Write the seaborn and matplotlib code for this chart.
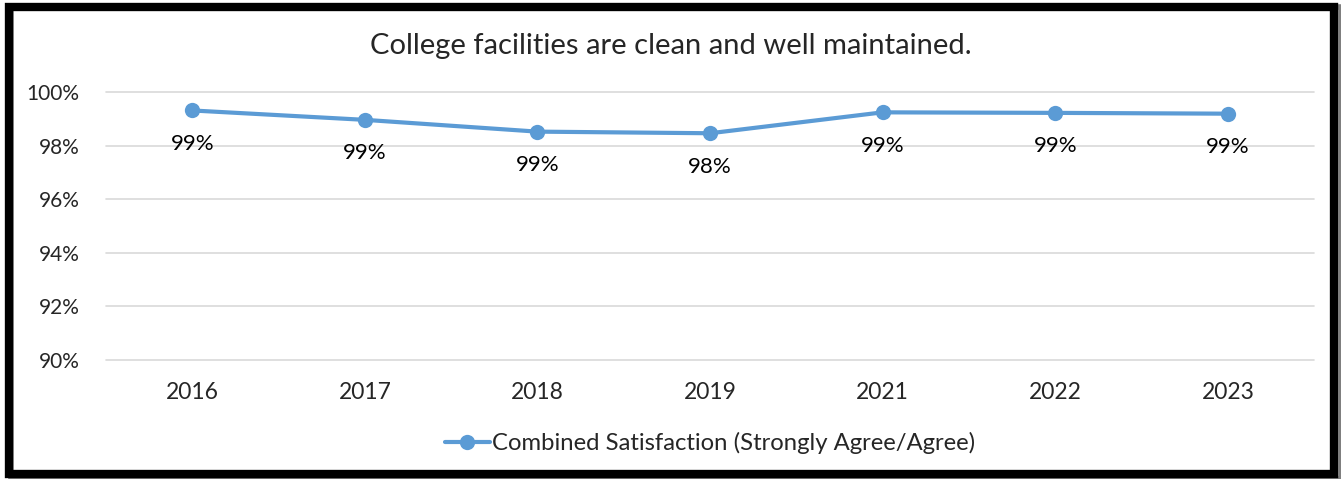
import pandas as pd
import seaborn as sns
import matplotlib.pyplot as plt
from matplotlib.patches import Rectangle

# Data
years = ['2016', '2017', '2018', '2019', '2021', '2022', '2023']
satisfaction = [99.31, 98.96, 98.52, 98.46, 99.24, 99.22, 99.19]
labels = ['99%', '99%', '99%', '98%', '99%', '99%', '99%']
yticks = [90, 92, 94, 96, 98, 100]
series_name = 'Combined Satisfaction (Strongly Agree/Agree)'
title = 'College facilities are clean and well maintained.'

df = pd.DataFrame({'Year': years, 'Value': satisfaction, 'Series': series_name})

sns.set_style('white')
plt.rcParams['font.family'] = ['Lato', 'DejaVu Sans']

blue = '#5B9BD5'
fig = plt.figure(figsize=(13.41, 4.79), dpi=100)
ax = fig.add_axes([0.079, 0.2484, 0.901, 0.5596])

sns.lineplot(data=df, x='Year', y='Value', hue='Series', palette=[blue],
             marker='o', markersize=11, markeredgewidth=0, linewidth=3,
             sort=False, ax=ax)

for i, (v, lab) in enumerate(zip(satisfaction, labels)):
    ax.annotate(lab, (i, v), xytext=(0, -24), textcoords='offset points',
                ha='center', va='center', fontsize=16, color='black')

ax.set_xlim(-0.5, len(years) - 0.5)
ax.set_ylim(90, 100)
ax.set_yticks(yticks)
ax.set_yticklabels([f'{t}%' for t in yticks], fontsize=15)
ax.tick_params(axis='x', labelsize=16.5, pad=16, length=0)
ax.tick_params(axis='y', pad=19, length=0)
ax.set_xlabel('')
ax.set_ylabel('')
ax.grid(axis='y', color='#d9d9d9', linewidth=1.2)
ax.set_axisbelow(True)
for gl in ax.get_ygridlines():
    gl.set_clip_on(False)
for s in ax.spines.values():
    s.set_visible(False)

leg = ax.legend(loc='center', bbox_to_anchor=(0.5, -0.31), frameon=False,
                fontsize=17.2, handlelength=1.9, handletextpad=0.1)

fig.text(0.5, 0.904, title, ha='center', va='center', fontsize=21)

# frame with a little shadow, like the source document
fig.patches.append(Rectangle((0.008, 0.0), 0.992, 0.985, transform=fig.transFigure,
                             facecolor='none', edgecolor='#7f7f7f', linewidth=4, zorder=9))
fig.patches.append(Rectangle((0.0065, 0.0105), 0.9885, 0.9745, transform=fig.transFigure,
                             facecolor='none', edgecolor='black', linewidth=6, zorder=10))

plt.savefig('out.png', dpi=100)
